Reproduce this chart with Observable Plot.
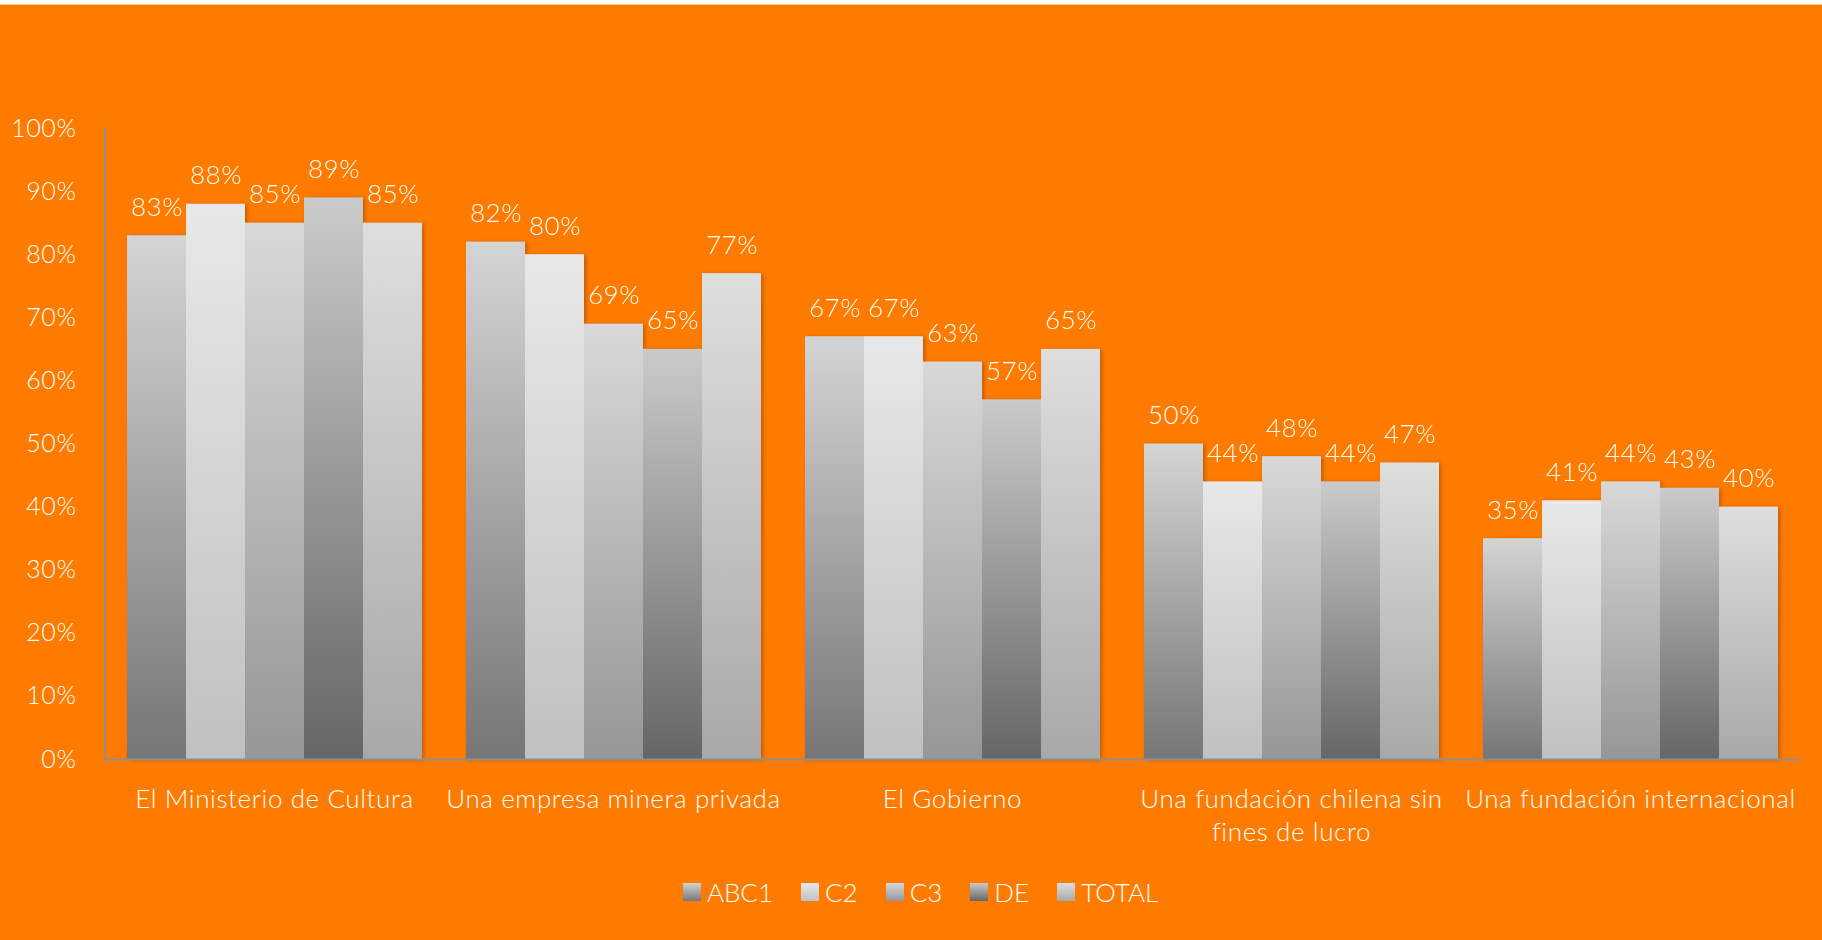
<!DOCTYPE html>
<html>
<head>
<meta charset="utf-8">
<script src="https://cdn.jsdelivr.net/npm/d3@7"></script>
<script src="https://cdn.jsdelivr.net/npm/@observablehq/plot@0.6"></script>
<style>
  html, body { margin: 0; padding: 0; width: 1822px; height: 940px; overflow: hidden; background: #ff7b00; }
  #topstrip { position: absolute; left: 0; top: 0; width: 1822px; height: 5px; background: linear-gradient(#ffffff 0%, #ffffff 70%, #ffb070 100%); z-index: 2; }
  #chart { position: absolute; left: 0; top: 0; }
  #chart svg text { font-weight: 300; letter-spacing: 0.6px; }
  #legend { position: absolute; left: 0; top: 878px; width: 1841px; height: 28px; display: flex; justify-content: center; align-items: center; font-family: Lato, "Open Sans", sans-serif; font-weight: 300; font-size: 26px; color: #fff; }
  .item { display: flex; align-items: center; margin: 0 14px; }
  .sw { width: 18px; height: 18px; margin-right: 6px; }
</style>
</head>
<body>
<div id="topstrip"></div>
<div id="chart"></div>
<div id="legend"></div>
<script>
// ---- data ----
const categories = [
  "El Ministerio de Cultura",
  "Una empresa minera privada",
  "El Gobierno",
  "Una fundación chilena sin\nfines de lucro",
  "Una fundación internacional"
];
const series = ["ABC1", "C2", "C3", "DE", "TOTAL"];
const abc1  = [0.83, 0.82, 0.67, 0.50, 0.35];
const c2    = [0.88, 0.80, 0.67, 0.44, 0.41];
const c3    = [0.85, 0.69, 0.63, 0.48, 0.44];
const de    = [0.89, 0.65, 0.57, 0.44, 0.43];
const total = [0.85, 0.77, 0.65, 0.47, 0.40];
const yTicks = [0, 0.1, 0.2, 0.3, 0.4, 0.5, 0.6, 0.7, 0.8, 0.9, 1.0];
// gradient colours (top, bottom) per series
const gradTop    = ["#d4d4d4", "#e8e8e8", "#d8d8d8", "#cacaca", "#dedede"];
const gradBottom = ["#767676", "#c0c0c0", "#969696", "#666666", "#a8a8a8"];

const valuesBySeries = [abc1, c2, c3, de, total];
const data = [];
categories.forEach((cat, i) => {
  series.forEach((s, j) => {
    data.push({category: cat, series: s, value: valuesBySeries[j][i]});
  });
});

const pct = d3.format(".0%");
const gradIds = series.map((s, i) => `grad-${i}`);

const chart = Plot.plot({
  width: 1822,
  height: 850,
  marginLeft: 104,
  marginRight: 23,
  marginTop: 128,
  marginBottom: 91,
  style: {background: "transparent", color: "#ffffff", fontFamily: "Lato, 'Open Sans', sans-serif", fontSize: "25px"},
  fx: {domain: categories, paddingInner: 0.127, paddingOuter: 0.0635, label: null},
  x: {domain: series, padding: 0, axis: null},
  y: {domain: [0, 1], axis: null},
  color: {type: "ordinal", domain: series, range: gradIds.map(id => `url(#${id})`)},
  marks: [
    Plot.barY(data, {fx: "category", x: "series", y: "value", fill: "series"}),
    Plot.text(data, {fx: "category", x: "series", y: "value", text: d => pct(d.value), dy: -20, lineAnchor: "bottom", fill: "#ffffff", fontSize: 26}),
    Plot.axisY(yTicks, {tickFormat: pct, tickSize: 0, tickPadding: 50, fontSize: 25, label: null, fill: "#ffffff"}),
    Plot.axisFx({anchor: "bottom", tickSize: 0, tickPadding: 24, fontSize: 26, lineHeight: 1.3, label: null, fill: "#ffffff"}),
    Plot.frame({anchor: "left", facet: "super", stroke: "#8f8f8f", strokeWidth: 2, insetLeft: -21.5, insetRight: -21.5}),
    Plot.frame({anchor: "bottom", facet: "super", stroke: "#8f8f8f", strokeWidth: 2, insetLeft: -21.5, insetRight: -21.5})
  ]
});

// gradients
const svg = d3.select(chart);
const defs = svg.insert("defs", ":first-child");
series.forEach((s, i) => {
  const g = defs.append("linearGradient").attr("id", gradIds[i]).attr("x1", 0).attr("y1", 0).attr("x2", 0).attr("y2", 1);
  g.append("stop").attr("offset", "0%").attr("stop-color", gradTop[i]);
  g.append("stop").attr("offset", "100%").attr("stop-color", gradBottom[i]);
});
svg.selectAll('g[aria-label="bar"]').style("filter", "drop-shadow(2px 1px 2px rgba(0,0,0,0.25))");

document.getElementById("chart").appendChild(chart);

// legend
const legend = d3.select("#legend");
series.forEach((s, i) => {
  const it = legend.append("div").attr("class", "item");
  it.append("div").attr("class", "sw").style("background", `linear-gradient(${gradTop[i]}, ${gradBottom[i]})`);
  it.append("span").text(s);
});
</script>
</body>
</html>
